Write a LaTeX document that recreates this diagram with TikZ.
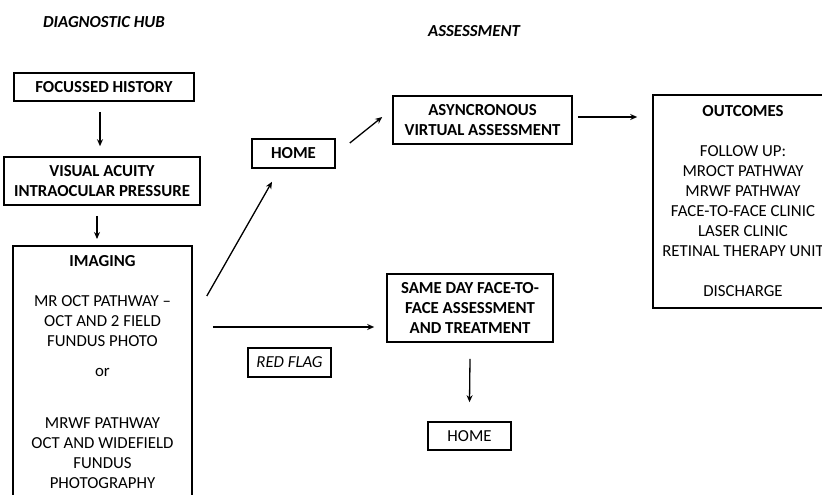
\documentclass[tikz,border=0pt]{standalone}
\usepackage{fontspec}
\setmainfont{Carlito}
\usetikzlibrary{arrows.meta}
\begin{document}
\begin{tikzpicture}[x=1pt,y=-1pt,
  every node/.style={font=\fontsize{16.8}{20}\selectfont, inner sep=0pt, align=center},
  box/.style={draw, line width=1.6pt, rectangle},
  bx/.style={font=\fontsize{16.8}{20}\selectfont\bfseries},
  arr/.style={line width=1.3pt, -{Stealth[length=7pt,width=6pt]}},
  plain/.style={line width=1.3pt}]
\clip (0,0) rectangle (822,495);
\fill[white] (0,0) rectangle (822,495);
% headings
\node[font=\fontsize{16.8}{20}\selectfont\bfseries\itshape] (hub) at (104,22) {DIAGNOSTIC HUB};
\node[font=\fontsize{16.8}{20}\selectfont\bfseries\itshape] (assess) at (474,31) {ASSESSMENT};
% left column
\node[box,bx,minimum width=180,minimum height=28] (focus) at (104,87) {FOCUSSED HISTORY};
\node[box,bx,minimum width=196,minimum height=48] (va) at (102,181) {VISUAL ACUITY\\INTRAOCULAR PRESSURE};
\node[box,minimum width=179,minimum height=290,anchor=north] (imaging) at (102.5,245) {};
\node[bx] (imgtitle) at (102.5,261) {IMAGING};
\node (img1) at (102.5,321) {MR OCT PATHWAY --\\OCT AND 2 FIELD\\FUNDUS PHOTO};
\node (imgor) at (102.5,372) {or};
\node (img2) at (102.5,453) {MRWF PATHWAY\\OCT AND WIDEFIELD\\FUNDUS\\PHOTOGRAPHY};
% middle
\node[box,bx,minimum width=83,minimum height=29] (home1) at (293.5,153.5) {HOME};
\node[box,bx,minimum width=179,minimum height=48] (async) at (482.5,120) {ASYNCRONOUS\\VIRTUAL ASSESSMENT};
\node[box,minimum width=180,minimum height=213] (outcomes) at (743,201.5) {\textbf{OUTCOMES}\\[20pt]FOLLOW UP:\\MROCT PATHWAY\\MRWF PATHWAY\\FACE-TO-FACE CLINIC\\LASER CLINIC\\RETINAL THERAPY UNIT\\[20pt]DISCHARGE};
\node[box,minimum width=83,minimum height=29,font=\fontsize{16.8}{20}\selectfont\itshape] (redflag) at (289.5,362.5) {RED FLAG};
\node[box,bx,minimum width=166,minimum height=68] (sameday) at (470,308) {SAME DAY FACE-TO-\\FACE ASSESSMENT\\AND TREATMENT};
\node[box,minimum width=83,minimum height=28] (home2) at (469.5,436) {HOME};
% connectors
\draw[arr] ([yshift=-10]focus.south -| 100,0) -- ([yshift=10]va.north -| 100,0);
\draw[arr] ([yshift=-10]va.south -| 97,0) -- ([yshift=6]imaging.north -| 97,0);
\draw[arr] ([shift={(14,51)}]imaging.north east) -- ([shift={(-21.5,13)}]home1.south);
\draw[arr] ([shift={(14,-10.5)}]home1.east) -- ([shift={(-10,-3)}]async.west);
\draw[arr] ([shift={(5,-3)}]async.east) -- ([shift={(-15,-3)}]async.east -| outcomes.west);
\draw[arr] ([shift={(20,82)}]imaging.north east) -- ([shift={(-12,0)}]sameday.west |- 0,327);
\draw[arr] ([yshift=-16]sameday.south) -- ([yshift=19]home2.north);
\end{tikzpicture}
\end{document}
